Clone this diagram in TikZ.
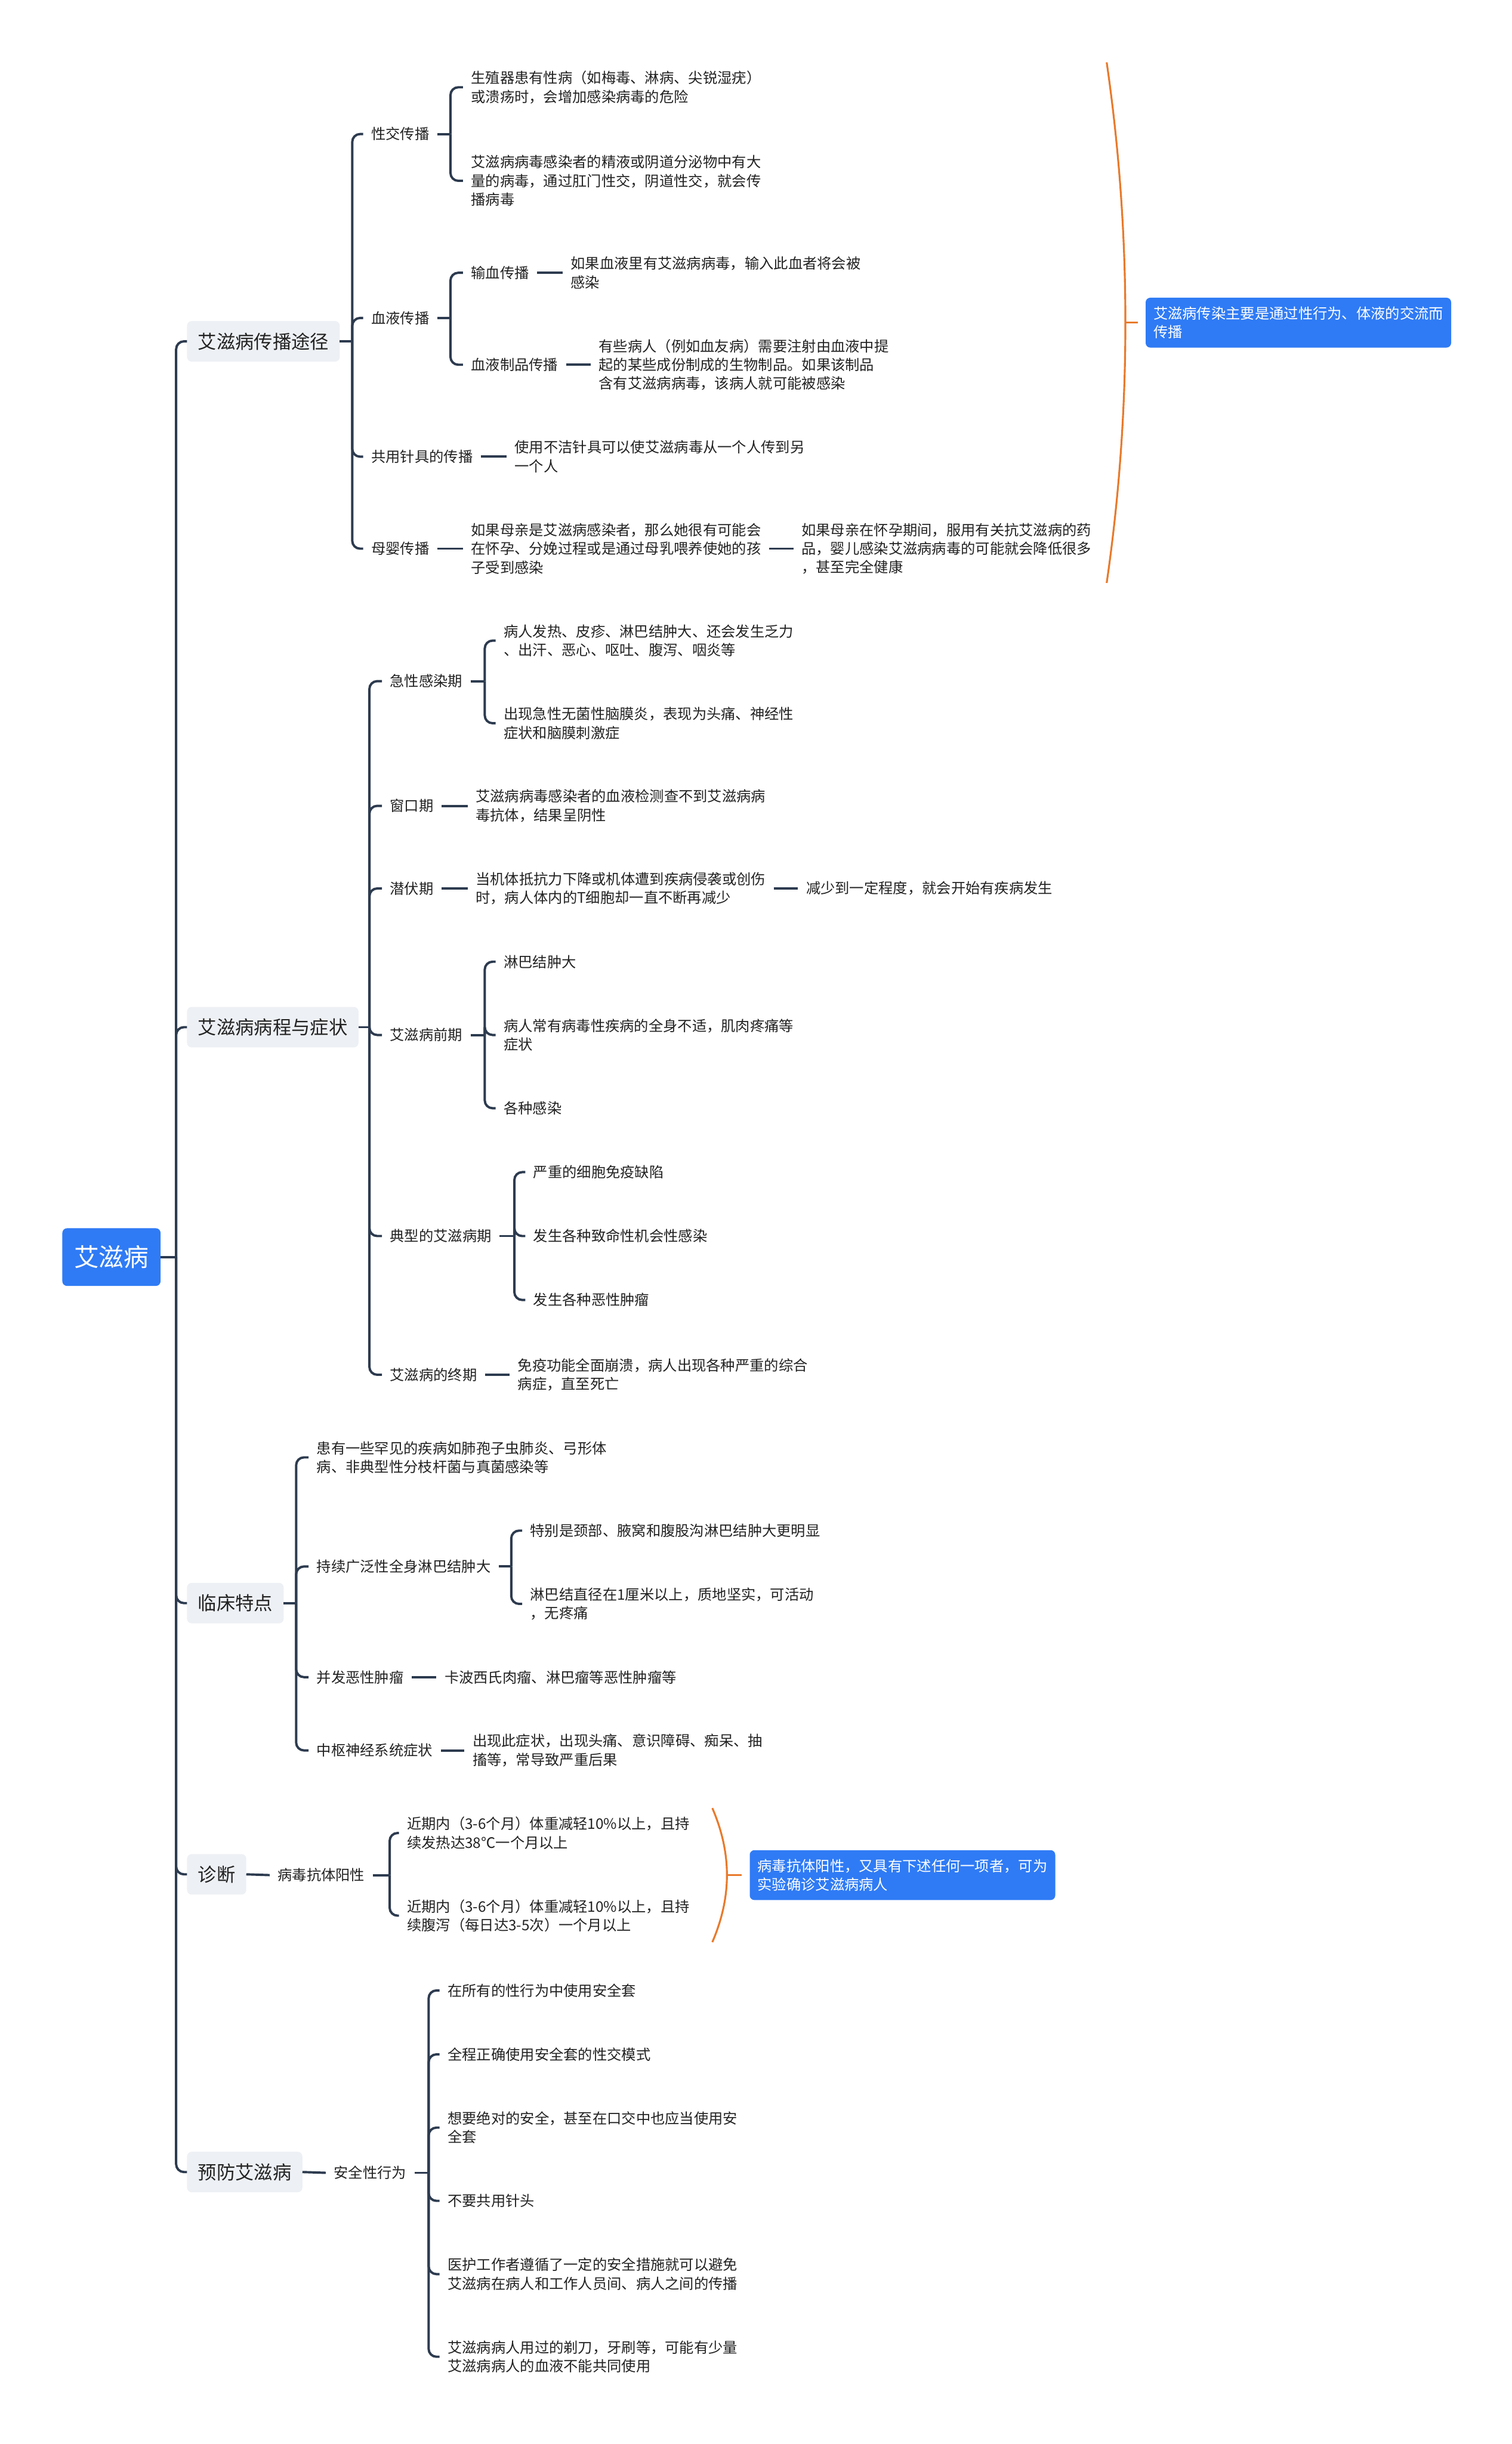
\documentclass[tikz,border=0pt]{standalone}
\usepackage{fontspec}
\setmainfont{Noto Sans CJK SC}
\definecolor{linec}{HTML}{2D3B4F}
\definecolor{bluec}{HTML}{2F7BF5}
\definecolor{grayc}{HTML}{EDF0F4}
\definecolor{orangec}{HTML}{E87A2C}
\definecolor{txtc}{HTML}{222222}
\tikzset{
  conn/.style={draw=linec, line width=1.5pt},
  rc/.style={conn, rounded corners=5pt},
  txt/.style={font=\fontsize{9.3}{12}\selectfont, text=txtc, align=left, inner xsep=5pt, inner ysep=1pt, anchor=west},
  lvone/.style={font=\fontsize{12}{14}\selectfont, fill=grayc, rounded corners=3pt, inner xsep=7pt, minimum height=26pt, anchor=west, outer sep=0pt, text=txtc},
  rootbox/.style={font=\fontsize{16}{18}\selectfont, fill=bluec, text=white, rounded corners=3pt, minimum width=63pt, minimum height=37pt, outer sep=0pt},
  note/.style={font=\fontsize{9.3}{12}\selectfont, fill=bluec, text=white, rounded corners=3pt, align=left, inner xsep=5pt, minimum height=32pt, anchor=west, outer sep=0pt},
  bracec/.style={draw=orangec, line width=1.2pt}
}
\begin{document}
\begin{tikzpicture}[x=1pt,y=-1pt]
\path[use as bounding box, fill=white] (0,0) rectangle (970,1568);

% root and level one
\node[rootbox] (root) at (71.5,806.5) {艾滋病};
\node[lvone] (b1) at (120,219) {艾滋病传播途径};
\node[lvone] (b2) at (120,659) {艾滋病病程与症状};
\node[lvone] (b3) at (120,1028.5) {临床特点};
\node[lvone] (b4) at (120,1202.5) {诊断};
\node[lvone] (b5) at (120,1393.5) {预防艾滋病};
\coordinate (sp) at (113,806.5);
\draw[conn] (root.east) -- (sp);
\foreach \n in {b1,b2,b3,b4,b5} \draw[rc] (sp) |- (\n.west);

% ---------- branch 1
\node[txt] (c11) at (233,86) {性交传播};
\node[txt] (c12) at (233,204) {血液传播};
\node[txt] (c13) at (233,293) {共用针具的传播};
\node[txt] (c14) at (233,352) {母婴传播};
\coordinate (k1) at (226,219);
\draw[conn] (b1.east) -- (k1);
\foreach \n in {c11,c12,c13,c14} \draw[rc] (k1) |- (\n.west);

\node[txt] (d111) at (297,56) {生殖器患有性病（如梅毒、淋病、尖锐湿疣）\\或溃疡时，会增加感染病毒的危险};
\node[txt] (d112) at (297,116) {艾滋病病毒感染者的精液或阴道分泌物中有大\\量的病毒，通过肛门性交，阴道性交，就会传\\播病毒};
\coordinate (k11) at (289,86);
\draw[conn] (c11.east) -- (k11);
\foreach \n in {d111,d112} \draw[rc] (k11) |- (\n.west);

\node[txt] (d121) at (297,175) {输血传播};
\node[txt] (d122) at (297,234) {血液制品传播};
\coordinate (k12) at (289,204);
\draw[conn] (c12.east) -- (k12);
\foreach \n in {d121,d122} \draw[rc] (k12) |- (\n.west);
\node[txt] (e121) at (361,175) {如果血液里有艾滋病病毒，输入此血者将会被\\感染};
\node[txt] (e122) at (379,234) {有些病人（例如血友病）需要注射由血液中提\\起的某些成份制成的生物制品。如果该制品\\含有艾滋病病毒，该病人就可能被感染};
\draw[conn] (d121.east) -- (e121.west);
\draw[conn] (d122.east) -- (e122.west);

\node[txt] (d13) at (325,293) {使用不洁针具可以使艾滋病毒从一个人传到另\\一个人};
\draw[conn] (c13.east) -- (d13.west);

\node[txt] (d14) at (297,352) {如果母亲是艾滋病感染者，那么她很有可能会\\在怀孕、分娩过程或是通过母乳喂养使她的孩\\子受到感染};
\node[txt] (e14) at (509,352) {如果母亲在怀孕期间，服用有关抗艾滋病的药\\品，婴儿感染艾滋病病毒的可能就会降低很多\\，甚至完全健康};
\draw[conn] (c14.east) -- (d14.west);
\draw[conn] (d14.east) -- (e14.west);

\draw[bracec] (710,40) .. controls (726,150) and (726,264) .. (710,374);
\coordinate (br1) at (722,207);
\node[note] (n1) at (735,207) {艾滋病传染主要是通过性行为、体液的交流而\\传播};
\draw[bracec, shorten >=5pt] (br1) -- (n1.west);

% ---------- branch 2
\node[txt] (c21) at (245,437) {急性感染期};
\node[txt] (c22) at (245,517) {窗口期};
\node[txt] (c23) at (245,570) {潜伏期};
\node[txt] (c24) at (245,664) {艾滋病前期};
\node[txt] (c25) at (245,793) {典型的艾滋病期};
\node[txt] (c26) at (245,882) {艾滋病的终期};
\coordinate (k2) at (237,659);
\draw[conn] (b2.east) -- (k2);
\foreach \n in {c21,c22,c23,c24,c25,c26} \draw[rc] (k2) |- (\n.west);

\node[txt] (d211) at (318,411) {病人发热、皮疹、淋巴结肿大、还会发生乏力\\、出汗、恶心、呕吐、腹泻、咽炎等};
\node[txt] (d212) at (318,464) {出现急性无菌性脑膜炎，表现为头痛、神经性\\症状和脑膜刺激症};
\coordinate (k21) at (311,437);
\draw[conn] (c21.east) -- (k21);
\foreach \n in {d211,d212} \draw[rc] (k21) |- (\n.west);

\node[txt] (d22) at (300,517) {艾滋病病毒感染者的血液检测查不到艾滋病病\\毒抗体，结果呈阴性};
\draw[conn] (c22.east) -- (d22.west);

\node[txt] (d23) at (300,570) {当机体抵抗力下降或机体遭到疾病侵袭或创伤\\时，病人体内的T细胞却一直不断再减少};
\node[txt] (e23) at (512,570) {减少到一定程度，就会开始有疾病发生};
\draw[conn] (c23.east) -- (d23.west);
\draw[conn] (d23.east) -- (e23.west);

\node[txt] (d241) at (318,617) {淋巴结肿大};
\node[txt] (d242) at (318,664) {病人常有病毒性疾病的全身不适，肌肉疼痛等\\症状};
\node[txt] (d243) at (318,711) {各种感染};
\coordinate (k24) at (311,664);
\draw[conn] (c24.east) -- (k24);
\foreach \n in {d241,d242,d243} \draw[rc] (k24) |- (\n.west);

\node[txt] (d251) at (337,752) {严重的细胞免疫缺陷};
\node[txt] (d252) at (337,793) {发生各种致命性机会性感染};
\node[txt] (d253) at (337,834) {发生各种恶性肿瘤};
\coordinate (k25) at (330,793);
\draw[conn] (c25.east) -- (k25);
\foreach \n in {d251,d252,d253} \draw[rc] (k25) |- (\n.west);

\node[txt] (d26) at (327,882) {免疫功能全面崩溃，病人出现各种严重的综合\\病症，直至死亡};
\draw[conn] (c26.east) -- (d26.west);

% ---------- branch 3
\node[txt] (c31) at (198,935) {患有一些罕见的疾病如肺孢子虫肺炎、弓形体\\病、非典型性分枝杆菌与真菌感染等};
\node[txt] (c32) at (198,1005) {持续广泛性全身淋巴结肿大};
\node[txt] (c33) at (198,1076) {并发恶性肿瘤};
\node[txt] (c34) at (198,1123) {中枢神经系统症状};
\coordinate (k3) at (190,1028.5);
\draw[conn] (b3.east) -- (k3);
\foreach \n in {c31,c32,c33,c34} \draw[rc] (k3) |- (\n.west);

\node[txt] (d321) at (335,982) {特别是颈部、腋窝和腹股沟淋巴结肿大更明显};
\node[txt] (d322) at (335,1029) {淋巴结直径在1厘米以上，质地坚实，可活动\\，无疼痛};
\coordinate (k32) at (328,1005);
\draw[conn] (c32.east) -- (k32);
\foreach \n in {d321,d322} \draw[rc] (k32) |- (\n.west);

\node[txt] (d33) at (280,1076) {卡波西氏肉瘤、淋巴瘤等恶性肿瘤等};
\draw[conn] (c33.east) -- (d33.west);
\node[txt] (d34) at (298,1123) {出现此症状，出现头痛、意识障碍、痴呆、抽\\搐等，常导致严重后果};
\draw[conn] (c34.east) -- (d34.west);

% ---------- branch 4
\node[txt] (c4) at (173,1203) {病毒抗体阳性};
\draw[conn] (b4.east) -- (c4.west);
\coordinate (k4) at (250,1203);
\draw[conn] (c4.east) -- (k4);
\node[txt] (d41) at (256,1176) {近期内（3-6个月）体重减轻10\%以上，且持\\续发热达38℃一个月以上};
\node[txt] (d42) at (256,1229) {近期内（3-6个月）体重减轻10\%以上，且持\\续腹泻（每日达3-5次）一个月以上};
\foreach \n in {d41,d42} \draw[rc] (k4) |- (\n.west);

\draw[bracec] (457,1160) .. controls (469.5,1189) and (469.5,1217) .. (457,1246);
\coordinate (br2) at (466.4,1203);
\node[note] (n2) at (481,1203) {病毒抗体阳性，又具有下述任何一项者，可为\\实验确诊艾滋病病人};
\draw[bracec, shorten >=5pt] (br2) -- (n2.west);

% ---------- branch 5
\node[txt] (c5) at (209,1394) {安全性行为};
\draw[conn] (b5.east) -- (c5.west);
\coordinate (k5) at (275,1394);
\draw[conn] (c5.east) -- (k5);
\node[txt] (d51) at (282,1277) {在所有的性行为中使用安全套};
\node[txt] (d52) at (282,1318) {全程正确使用安全套的性交模式};
\node[txt] (d53) at (282,1365) {想要绝对的安全，甚至在口交中也应当使用安\\全套};
\node[txt] (d54) at (282,1412) {不要共用针头};
\node[txt] (d55) at (282,1459) {医护工作者遵循了一定的安全措施就可以避免\\艾滋病在病人和工作人员间、病人之间的传播};
\node[txt] (d56) at (282,1512) {艾滋病病人用过的剃刀，牙刷等，可能有少量\\艾滋病病人的血液不能共同使用};
\foreach \n in {d51,d52,d53,d54,d55,d56} \draw[rc] (k5) |- (\n.west);
\end{tikzpicture}
\end{document}
